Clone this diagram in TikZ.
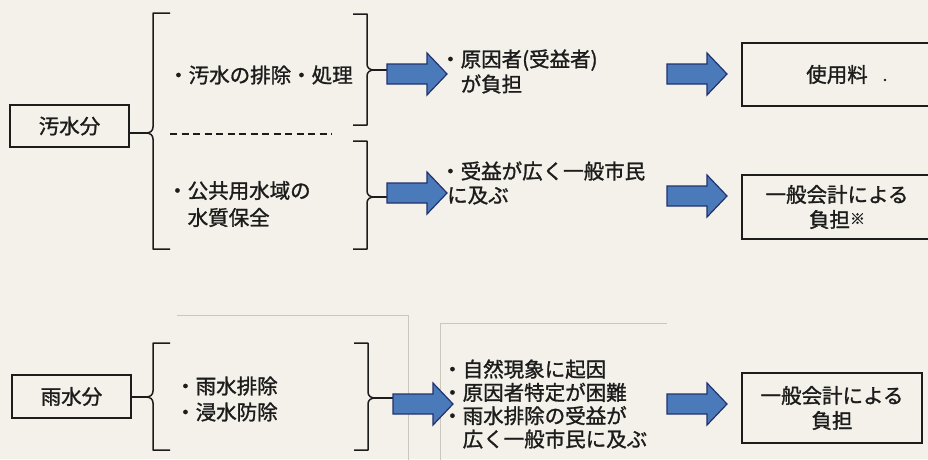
\documentclass[tikz,border=0pt]{standalone}
\usepackage{fontspec}
\setmainfont[FakeBold=1.3]{Noto Sans CJK JP}
\definecolor{bg}{RGB}{243,241,233}
\definecolor{ink}{RGB}{28,28,28}
\definecolor{afill}{RGB}{74,122,186}
\definecolor{aline}{RGB}{35,50,110}
\definecolor{faint}{RGB}{200,200,192}
\tikzset{
  txt/.style={inner sep=0pt, anchor=west, align=left, text=ink, font=\fontsize{20.5}{25}\selectfont},
  boxnode/.style={draw=ink, line width=1.2pt, inner sep=0pt, align=center, text=ink, font=\fontsize{20.5}{25}\selectfont},
  brace/.style={draw=ink, line width=1.5pt, line join=round},
  link/.style={draw=ink, line width=1.5pt},
  faintline/.style={draw=faint, line width=0.8pt},
  barrow/.pic={\draw[fill=afill, draw=aline, line width=1.2pt, line join=miter]
     (0,-10) -- (40,-10) -- (40,-21) -- (60,0) -- (40,21) -- (40,10) -- (0,10) -- cycle;}
}
\begin{document}
\begin{tikzpicture}[x=1pt,y=-1pt]
\useasboundingbox (0,0) rectangle (928,459);
\fill[bg] (0,0) rectangle (928,459);
\clip (0,0) rectangle (928,459);

% faint background lines
\draw[faintline] (177,315) -- (408,315) -- (408,470);
\draw[faintline] (440,470) -- (440,323) -- (667,323);

% left boxes
\node[boxnode, minimum width=119pt, minimum height=42pt] (osui) at (69.5,126) {汚水分};
\node[boxnode, minimum width=119pt, minimum height=43pt] (usui) at (71.5,396.5) {雨水分};

% right boxes
\node[boxnode, minimum width=190pt, minimum height=63pt] (shiyo) at (837,74.5) {使用料};
\fill[ink] (885,80) circle (1.3pt);
\node[boxnode, minimum width=190pt, minimum height=64pt] (ippan1) at (837,207)
  {一般会計による\\負担{\fontsize{15}{15}\selectfont\raisebox{3pt}{※}}};
\node[boxnode, minimum width=180pt, minimum height=70pt] (ippan2) at (832,408) {一般会計による\\負担};

% cusp coordinates
\coordinate (cl1) at (146,133);
\coordinate (cr1) at (374,70);
\coordinate (cr2) at (374,197);
\coordinate (cl2) at (146,397);
\coordinate (cr3) at (375,398);

% upper left brace
\draw[brace] (170,13) -- (153,13) -- (153,127) .. controls (153,131) and (150,133) .. (cl1)
   .. controls (150,133) and (153,135) .. (153,139) -- (153,249) -- (170,249);
\draw[link] (osui.east |- cl1) -- (cl1);
% dashed separator
\draw[ink, line width=1.3pt, dash pattern=on 7pt off 4.5pt] (170,134) -- (332,134);
% upper right braces
\draw[brace] (353,14) -- (367,14) -- (367,64) .. controls (367,68) and (370,70) .. (cr1)
   .. controls (370,70) and (367,72) .. (367,76) -- (367,125) -- (353,125);
\draw[brace] (353,141) -- (367,141) -- (367,191) .. controls (367,195) and (370,197) .. (cr2)
   .. controls (370,197) and (367,199) .. (367,203) -- (367,249) -- (353,249);
% lower braces
\draw[brace] (170,343) -- (153,343) -- (153,391) .. controls (153,395) and (150,397) .. (cl2)
   .. controls (150,397) and (153,399) .. (153,403) -- (153,450) -- (170,450);
\draw[link] (usui.east |- cl2) -- (cl2);
\draw[brace] (354,343) -- (368,343) -- (368,392) .. controls (368,396) and (371,398) .. (cr3)
   .. controls (371,398) and (368,400) .. (368,404) -- (368,450) -- (354,450);

% block arrows
\coordinate (a1) at (387,74);
\coordinate (a2) at (387,193);
\coordinate (a3) at (667,74);
\coordinate (a4) at (667,196);
\coordinate (a5) at (393,404);
\coordinate (a6) at (667,404);
\draw[link] (cr1) -- (a1 |- cr1);
\draw[link] (cr2) -- (a2 |- cr2);
\draw[link] (cr3) -- (a5 |- cr3);
\pic at (a1) {barrow};
\pic at (a2) {barrow};
\pic at (a3) {barrow};
\pic at (a4) {barrow};
\pic at (a5) {barrow};
\pic at (a6) {barrow};

% texts
\node[txt] (t1) at (168,75) {・汚水の排除・処理};
\node[txt, font=\fontsize{20.5}{27}\selectfont] (t2) at (167,204) {・公共用水域の\\　水質保全};
\node[txt] (t3) at (440,71.5) {・原因者(受益者)\\　が負担};
\node[txt, font=\fontsize{20.5}{24}\selectfont] (t4) at (440,183) {・受益が広く一般市民\\\hspace*{7pt}に及ぶ};
\node[txt, font=\fontsize{20.5}{26}\selectfont] (t6) at (175,399) {・雨水排除\\・浸水防除};
\node[txt, font=\fontsize{20.5}{23.3}\selectfont] (t5) at (442,404)
  {・自然現象に起因\\・原因者特定が困難\\・雨水排除の受益が\\　広く一般市民に及ぶ};
\end{tikzpicture}
\end{document}
